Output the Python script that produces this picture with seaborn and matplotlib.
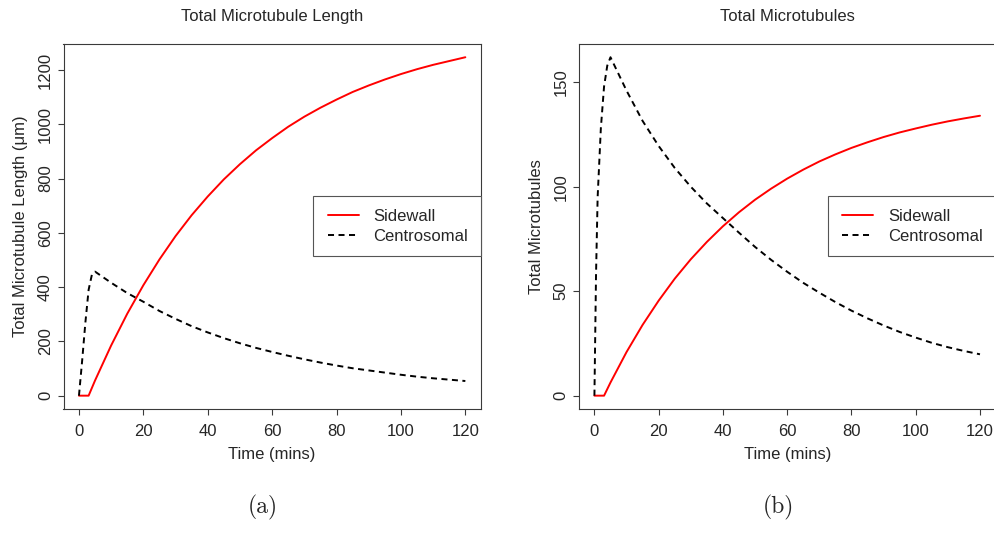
import numpy as np
import pandas as pd
import matplotlib
matplotlib.use("Agg")
import matplotlib.pyplot as plt
from matplotlib.legend_handler import HandlerLine2D
import seaborn as sns

# ---- data -----------------------------------------------------------------
# (a) total microtubule length (um) over time (mins)
len_side_t = [0, 3, 5, 10, 15, 20, 25, 30, 35, 40, 45, 50, 55, 60, 65, 70, 75,
              80, 85, 90, 95, 100, 105, 110, 115, 120]
len_side_v = [0, 0, 56, 185, 302, 407, 502, 588, 665, 734, 797, 853, 904, 949,
              991, 1028, 1061, 1091, 1119, 1143, 1165, 1185, 1203, 1219, 1233, 1247]
len_cent_t = [0, 1, 2, 3, 4, 5, 10, 15, 20, 25, 30, 35, 40, 45, 50, 55, 60, 65,
              70, 75, 80, 85, 90, 95, 100, 105, 110, 115, 120]
len_cent_v = [0, 130, 270, 390, 445, 457, 416, 378, 346, 312, 283, 256, 233, 212,
              193, 176, 161, 147, 134, 122, 111, 101, 93, 85, 77, 70, 64, 59, 54]

# (b) total number of microtubules over time (mins)
num_side_t = [0, 3, 5, 10, 15, 20, 25, 30, 35, 40, 45, 50, 55, 60, 65, 70, 75,
              80, 85, 90, 95, 100, 105, 110, 115, 120]
num_side_v = [0, 0, 6.3, 20.9, 33.9, 45.5, 56.0, 65.3, 73.6, 81.1, 87.8, 93.8,
              99.1, 103.9, 108.2, 112.1, 115.5, 118.6, 121.3, 123.8, 126.0, 127.9,
              129.7, 131.3, 132.7, 134.0]
num_cent_t = [0, 0.5, 1, 2, 3, 4, 5, 10, 15, 20, 25, 30, 35, 40, 45, 50, 55, 60,
              65, 70, 75, 80, 85, 90, 95, 100, 105, 110, 115, 120]
num_cent_v = [0, 58, 95, 128, 148, 158, 162, 146, 131.5, 119.5, 109, 100, 92, 85,
              78, 71.2, 65, 59.3, 54, 49.3, 44.8, 40.7, 37, 33.6, 30.5, 27.8, 25.3,
              23.2, 21.4, 19.8]

series_names = ["Sidewall", "Centrosomal"]
x_ticks = [0, 20, 40, 60, 80, 100, 120]
len_y_ticks = [0, 200, 400, 600, 800, 1000, 1200]
num_y_ticks = [0, 50, 100, 150]


def long_frame(side_t, side_v, cent_t, cent_v):
    return pd.concat([
        pd.DataFrame({"time": side_t, "value": side_v, "type": series_names[0]}),
        pd.DataFrame({"time": cent_t, "value": cent_v, "type": series_names[1]}),
    ], ignore_index=True)


df_len = long_frame(len_side_t, len_side_v, len_cent_t, len_cent_v)
df_num = long_frame(num_side_t, num_side_v, num_cent_t, num_cent_v)

# ---- style ----------------------------------------------------------------
sns.set_style("ticks")
plt.rcParams["font.family"] = ["Liberation Sans", "DejaVu Sans"]
plt.rcParams["font.size"] = 12

palette = {"Sidewall": "#FF0000", "Centrosomal": "#000000"}
dashes = {"Sidewall": "", "Centrosomal": (3.1, 2.3)}
SPINE = "#3a3a3a"


class ShortLineHandler(HandlerLine2D):
    """Legend line drawn only on the right part of the handle box."""

    def __init__(self, line_len=1.86, **kw):
        super().__init__(**kw)
        self.line_len = line_len

    def get_xdata(self, legend, xdescent, ydescent, width, height, fontsize):
        x1 = -xdescent + width
        x0 = x1 - self.line_len * fontsize
        xd = np.array([x0, x1])
        return xd, xd


fig = plt.figure(figsize=(9.94, 5.33), dpi=100)
W, H = 994.0, 533.0
bottom = 1 - 409.2 / H
height = (409.2 - 43.7) / H
ax1 = fig.add_axes([63.5 / W, bottom, (480.8 - 63.5) / W, height])
ax2 = fig.add_axes([579.0 / W, bottom, (995.4 - 579.0) / W, height])


def draw_panel(ax, df, title, ylabel, yticks, ylabelpad):
    sns.lineplot(data=df, x="time", y="value", hue="type", style="type",
                 palette=palette, dashes=dashes, hue_order=series_names,
                 style_order=series_names, estimator=None, sort=True,
                 linewidth=1.4, ax=ax)
    ymax = df["value"].max()
    ax.set_xlim(-4.8, 124.8)
    ax.set_ylim(-0.04 * ymax, 1.04 * ymax)
    ax.set_xticks(x_ticks)
    ax.set_yticks(yticks)
    ax.set_title(title, fontsize=12, pad=16.5)
    ax.set_xlabel("Time (mins)", fontsize=12, labelpad=5.5)
    ax.set_ylabel(ylabel, fontsize=12, labelpad=ylabelpad)
    ax.tick_params(axis="both", direction="out", length=4.5, width=0.8,
                   color=SPINE, labelsize=12, pad=6.5)
    ax.tick_params(axis="y", labelrotation=90, pad=3.0)
    for lbl in ax.get_yticklabels():
        lbl.set_va("center")
    for sp in ax.spines.values():
        sp.set_visible(True)
        sp.set_color(SPINE)
        sp.set_linewidth(0.8)
    handles, labels = ax.get_legend_handles_labels()
    ax.legend(handles, labels, loc="center right", bbox_to_anchor=(1.0, 0.5),
              borderaxespad=0, fontsize=12, frameon=True, fancybox=False,
              framealpha=1, edgecolor="#555555", borderpad=0.75,
              labelspacing=0.3, handlelength=2.0, handletextpad=0.88,
              handler_map={h: ShortLineHandler() for h in handles})
    ax.get_legend().get_frame().set_linewidth(0.8)


draw_panel(ax1, df_len, "Total Microtubule Length",
           "Total Microtubule Length (\u03bcm)", len_y_ticks, 7.0)
draw_panel(ax2, df_num, "Total Microtubules", "Total Microtubules",
           num_y_ticks, 7.0)

fig.text(263 / W, 1 - 507 / H, "(a)", family="cmr10", fontsize=17,
         ha="center", va="center")
fig.text(778 / W, 1 - 507 / H, "(b)", family="cmr10", fontsize=17,
         ha="center", va="center")

fig.savefig("out.png", dpi=100, facecolor="white")
